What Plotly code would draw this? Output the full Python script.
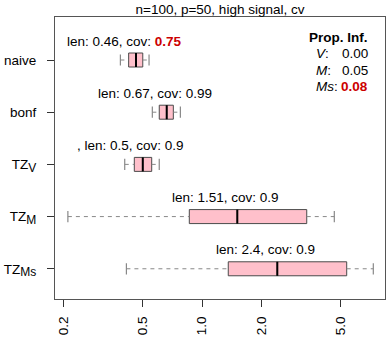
import math

import plotly.graph_objects as go

# data
methods = [
    "naive", "bonf",
    "TZ<sub><span style='font-size:12px'>V</span></sub>",
    "TZ<sub><span style='font-size:12px'>M</span></sub>",
    "TZ<sub><span style='font-size:12px'>Ms</span></sub>",
]
lower = [0.388, 0.562, 0.408, 0.211, 0.416]
q1 = [0.427, 0.609, 0.456, 0.863, 1.356]
med = [0.465, 0.664, 0.503, 1.506, 2.395]
q3 = [0.503, 0.717, 0.558, 3.37, 5.358]
upper = [0.541, 0.778, 0.609, 4.64, 7.295]
len_txt = ["0.46", "0.67", "0.5", "1.51", "2.4"]
cov_txt = ["0.75", "0.99", "0.9", "0.9", "0.9"]
cov_red = [True, False, False, False, False]
prefix = ["", "", ", ", "", ""]

prop_names = ["V", "M", "Ms"]
prop_vals = ["0.00", "0.05", "0.08"]
prop_red = [False, False, True]

xticks = [0.2, 0.5, 1.0, 2.0, 5.0]
xtick_txt = ["0.2", "0.5", "1.0", "2.0", "5.0"]

FONT = "Liberation Sans, Arial, sans-serif"
RED = "#CC0000"
BW = 0.268  # box height in category units

pos = list(range(1, len(methods) + 1))

fig = go.Figure()

# dashed whiskers
wx, wy = [], []
for p, lo, a, b, hi in zip(pos, lower, q1, q3, upper):
    wx += [lo, a, None, b, hi, None]
    wy += [p, p, None, p, p, None]
fig.add_trace(go.Scatter(
    x=wx, y=wy, mode="lines", hoverinfo="skip",
    line=dict(color="#888888", width=1, dash="4px,4px"),
))
# whisker caps
fig.add_trace(go.Scatter(
    x=lower + upper, y=pos + pos, mode="markers", hoverinfo="skip",
    marker=dict(symbol="line-ns", size=8, line=dict(color="#888888", width=1.2)),
))
# boxes
fig.add_trace(go.Box(
    y=pos, q1=q1, median=med, q3=q3, lowerfence=q1, upperfence=q3,
    orientation="h", width=BW, whiskerwidth=0,
    fillcolor="#FFC0CB", line=dict(color="#4a4a4a", width=1),
    hoverinfo="skip",
))
# medians
mx, my = [], []
for p, m in zip(pos, med):
    mx += [m, m, None]
    my += [p - BW / 2, p + BW / 2, None]
fig.add_trace(go.Scatter(
    x=mx, y=my, mode="lines", hoverinfo="skip",
    line=dict(color="black", width=2),
))

# len/cov labels (annotation x on a log axis is given in log10 units)
for p, m, pre, ln, cv, red in zip(pos, med, prefix, len_txt, cov_txt, cov_red):
    cov = f"<span style='color:{RED}'><b>{cv}</b></span>" if red else cv
    fig.add_annotation(
        x=math.log10(m), y=p, xref="x", yref="y",
        text=f"{pre}len: {ln}, cov: {cov}",
        showarrow=False, xshift=-12, yshift=19,
        font=dict(size=13.5, color="black", family=FONT),
    )

# proportion of infinite intervals
fig.add_annotation(
    x=0.9545, y=0.929, xref="paper", yref="paper", text="<b>Prop. Inf.</b>",
    showarrow=False, xanchor="right", yanchor="middle",
    font=dict(size=13.5, color="black", family=FONT),
)
for k, (nm, v, red) in enumerate(zip(prop_names, prop_vals, prop_red)):
    yy = 0.869 - k * 0.0585
    fig.add_annotation(
        x=0.785, y=yy, xref="paper", yref="paper", text=f"<i>{nm}</i>:",
        showarrow=False, xanchor="left", yanchor="middle",
        font=dict(size=13.5, color="black", family=FONT),
    )
    fig.add_annotation(
        x=0.9545, y=yy, xref="paper", yref="paper",
        text=f"<b>{v}</b>" if red else v,
        showarrow=False, xanchor="right", yanchor="middle",
        font=dict(size=13.5, color=RED if red else "black", family=FONT),
    )

fig.update_layout(
    width=388, height=346,
    margin=dict(l=55, r=3, t=17, b=47),
    paper_bgcolor="white", plot_bgcolor="white",
    showlegend=False,
    font=dict(family=FONT, size=13.5, color="black"),
    title=dict(
        text="n=100, p=50, high signal, cv", x=0.5, xref="paper",
        y=1 - 9 / 346, yanchor="middle", automargin=False,
        font=dict(size=13.5, color="black", family=FONT),
    ),
)
fig.update_xaxes(
    type="log", range=[-0.7406, 0.9219], automargin=False,
    tickvals=xticks, ticktext=xtick_txt, tickangle=-90,
    ticks="outside", ticklen=7, tickcolor="#333333",
    showline=True, linecolor="#555555", linewidth=1, mirror=True,
    showgrid=False, zeroline=False, ticklabelstandoff=4,
)
fig.update_yaxes(
    range=[5.579, 0.176], tickvals=pos, ticktext=methods, automargin=False,
    ticks="outside", ticklen=7, tickcolor="#333333",
    showline=True, linecolor="#555555", linewidth=1, mirror=True,
    showgrid=False, zeroline=False, ticklabelstandoff=8,
)

# page body has a default 8px margin; drop it so the figure fills the window
fig.write_html(
    "out.html",
    config={"displayModeBar": False},
    post_script="document.body.style.margin='0';",
)
